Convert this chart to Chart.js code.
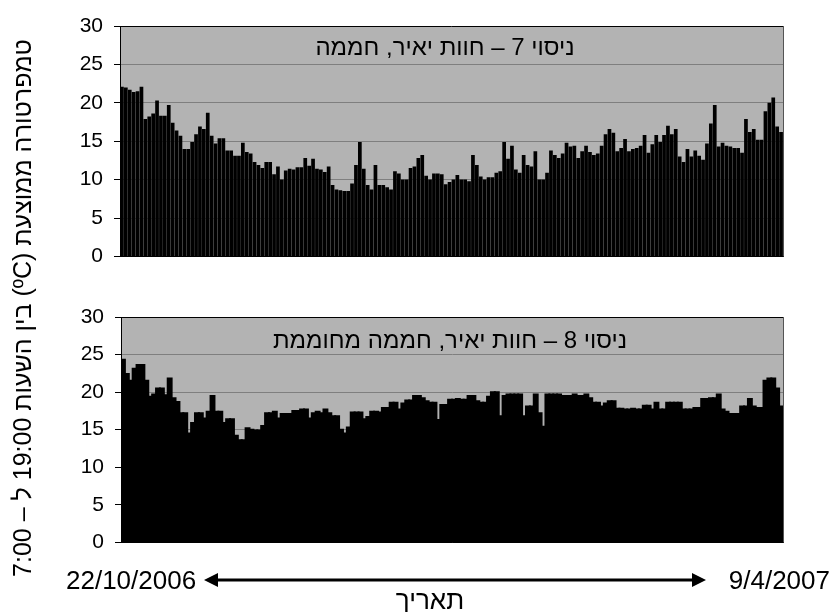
<!DOCTYPE html>
<html lang="he">
<head>
<meta charset="utf-8">
<script src="https://cdn.jsdelivr.net/npm/chart.js@4/dist/chart.umd.min.js"></script>
<style>
  html, body { margin: 0; padding: 0; background: #fff; }
  #wrap { position: relative; width: 833px; height: 612px; overflow: hidden; background: #fff;
          font-family: "Liberation Sans", Arial, "DejaVu Sans", sans-serif; color: #000; }
  .panel { position: absolute; left: 0; width: 833px; }
  .inner-title { position: absolute; white-space: nowrap; font-size: 24px; line-height: 28px;
                 transform: translate(-50%, -50%); direction: rtl; }
  #ytitle { position: absolute; left: 22px; top: 308px; width: 640px; text-align: center;
            font-size: 25px; line-height: 28px; white-space: nowrap; direction: rtl;
            transform: translate(-50%, -50%) rotate(-90deg); }
  .date { position: absolute; font-size: 26px; line-height: 30px; white-space: nowrap; }
  #xtitle { position: absolute; left: 430px; top: 600px; font-size: 26px; line-height: 28px;
            transform: translate(-50%, -50%); direction: rtl; white-space: nowrap; }
  #arrow { position: absolute; left: 0; top: 0; }
</style>
</head>
<body>
<div id="wrap">
  <div class="panel" style="top:0px; height:280px"><canvas id="c1"></canvas></div>
  <div class="panel" style="top:290px; height:276px"><canvas id="c2"></canvas></div>
  <div class="inner-title" id="t1" style="left:445px; top:47px">ניסוי 7 – חוות יאיר, חממה</div>
  <div class="inner-title" id="t2" style="left:450px; top:340px">ניסוי 8 – חוות יאיר, חממה מחוממת</div>
  <div id="ytitle">טמפרטורה ממוצעת (ºC) בין השעות 19:00 ל – 7:00</div>
  <div class="date" id="dStart" style="left:66px; top:565px">22/10/2006</div>
  <div class="date" id="dEnd" style="right:3px; top:565px">9/4/2007</div>
  <svg id="arrow" width="833" height="612">
    <line x1="214" y1="580" x2="696" y2="580" stroke="#000" stroke-width="3"/>
    <polygon points="204,580 218,573 218,587" fill="#000"/>
    <polygon points="706,580 692,573 692,587" fill="#000"/>
  </svg>
  <div id="xtitle">תאריך</div>
</div>
<script>
// Daily categories: 22/10/2006 .. 9/4/2007
const startDate = new Date(2006, 9, 22);
const dayCount = 170;
const days = [];
for (let i = 0; i < dayCount; i++) {
  const d = new Date(startDate.getFullYear(), startDate.getMonth(), startDate.getDate() + i);
  days.push(d.getDate() + '/' + (d.getMonth() + 1) + '/' + d.getFullYear());
}

// Mean temperature 19:00–07:00 (°C), experiment 7 – greenhouse
const greenhouse = [
  22.1,22.0,21.7,21.4,21.5,22.1,17.9,18.2,18.6,20.3,
  18.3,18.3,19.7,17.4,16.4,15.7,14.0,14.0,14.9,15.9,
  16.9,16.6,18.7,15.7,14.7,15.4,15.4,13.8,13.8,13.1,
  13.1,14.8,13.6,13.4,12.3,11.9,11.5,12.3,12.3,10.7,
  11.7,10.0,11.2,11.4,11.3,11.6,11.6,12.8,11.8,12.7,
  11.4,11.3,11.0,11.7,9.3,8.7,8.6,8.5,8.5,9.5,
  11.9,14.9,11.4,9.3,8.7,11.9,9.3,9.3,9.0,8.7,
  11.1,10.8,10.0,10.0,11.5,11.7,12.8,13.2,10.5,10.0,
  10.8,10.8,10.7,9.4,9.7,10.0,10.6,10.0,10.0,9.8,
  13.2,11.9,10.4,10.0,10.3,10.3,10.9,11.1,14.9,12.7,
  14.4,11.3,10.9,13.2,11.9,11.7,13.7,10.0,10.0,10.9,
  13.8,13.2,12.8,13.4,14.8,14.3,14.4,12.8,13.7,14.4,
  13.6,13.2,13.4,14.4,15.9,16.6,16.1,13.7,14.1,15.3,
  13.7,14.0,14.1,14.4,15.8,13.5,14.6,15.8,14.9,15.8,
  17.0,15.9,16.6,13.0,12.3,14.0,13.0,13.8,13.1,12.6,
  14.7,17.3,19.7,14.3,14.8,14.4,14.3,14.1,14.1,13.5,
  17.9,16.2,16.6,15.2,15.2,18.9,20.0,20.7,16.9,16.2
];

// Mean temperature 19:00–07:00 (°C), experiment 8 – heated greenhouse
const heatedGreenhouse = [
  24.3,22.4,21.5,23.1,23.6,23.6,21.5,19.4,19.7,20.5,
  20.5,19.6,21.8,19.2,18.7,17.2,17.2,14.5,15.9,17.2,
  17.2,16.5,17.4,19.5,17.4,17.4,15.9,16.4,16.4,14.2,
  13.6,13.6,15.2,15.0,14.9,14.9,15.5,17.2,17.2,17.4,
  16.5,17.1,17.1,17.1,17.5,17.5,17.7,17.7,16.5,17.2,
  17.4,17.2,17.7,17.2,16.8,16.8,15.0,14.5,15.3,17.3,
  17.3,17.3,16.4,16.7,17.4,17.4,17.3,17.9,17.9,18.6,
  18.6,17.7,18.5,18.9,18.9,19.5,19.5,19.2,18.8,18.6,
  18.6,16.3,18.3,18.3,19.0,19.0,19.1,19.0,19.0,19.5,
  19.5,18.8,18.6,18.6,19.4,20.0,20.0,16.8,19.5,19.7,
  19.7,19.7,19.7,16.8,18.1,18.1,19.7,17.2,15.4,19.7,
  19.7,19.7,19.7,19.5,19.5,19.5,19.7,19.5,19.5,19.7,
  19.2,18.6,18.6,18.1,18.5,18.8,18.8,17.8,17.8,17.7,
  17.7,17.8,17.7,17.7,18.2,18.2,17.7,18.6,17.7,17.7,
  18.6,18.6,18.6,18.6,17.7,17.7,17.7,17.9,17.9,19.1,
  19.1,19.2,19.2,19.7,17.7,17.4,17.1,17.1,17.1,18.1,
  18.1,19.1,18.1,17.9,17.9,21.5,21.8,21.8,20.5,18.1
];

const yTicks = [0, 5, 10, 15, 20, 25, 30];

const FONT = '"Liberation Sans", Arial, "DejaVu Sans", sans-serif';

// Gray plot background plus the dark frame on the top and right edges
const plotFrame = {
  id: 'plotFrame',
  beforeDraw(chart) {
    const a = chart.chartArea, ctx = chart.ctx;
    ctx.save();
    ctx.fillStyle = '#b3b3b3';
    ctx.fillRect(a.left, a.top, a.right - a.left, a.bottom - a.top);
    ctx.restore();
  },
  afterDraw(chart) {
    const a = chart.chartArea, ctx = chart.ctx;
    ctx.save();
    ctx.lineWidth = 1;
    ctx.strokeStyle = '#000';
    ctx.beginPath();
    ctx.moveTo(a.left, Math.round(a.top) + 0.5);
    ctx.lineTo(a.right, Math.round(a.top) + 0.5);
    ctx.stroke();
    ctx.strokeStyle = '#555';
    ctx.beginPath();
    ctx.moveTo(Math.round(a.right) + 0.5, a.top);
    ctx.lineTo(Math.round(a.right) + 0.5, a.bottom);
    ctx.stroke();
    ctx.restore();
  }
};

function makePanel(canvasId, values, axisWidth, pad, barPct, inflate) {
  return new Chart(document.getElementById(canvasId), {
    type: 'bar',
    data: {
      labels: days,
      datasets: [{
        data: values,
        backgroundColor: '#000',
        borderWidth: 0,
        inflateAmount: inflate,
        barPercentage: barPct,
        categoryPercentage: 1.0
      }]
    },
    options: {
      responsive: true,
      maintainAspectRatio: false,
      animation: false,
      events: [],
      layout: { padding: pad },
      plugins: { legend: { display: false }, tooltip: { enabled: false }, title: { display: false } },
      scales: {
        x: {
          type: 'category',
          offset: true,
          grid: { display: false, drawTicks: false },
          ticks: { display: false },
          border: { display: true, color: '#000', width: 1 }
        },
        y: {
          min: 0, max: 30,
          z: 1,
          afterFit(scale) { scale.width = axisWidth; },
          afterBuildTicks(scale) { scale.ticks = yTicks.map(v => ({ value: v })); },
          grid: {
            color: c => (c.tick && (c.tick.value === 0 || c.tick.value === 30)) ? 'rgba(0,0,0,0)' : '#7f7f7f',
            lineWidth: 1,
            tickColor: '#000',
            tickLength: 6,
            drawTicks: true
          },
          border: { display: true, color: '#000', width: 1 },
          ticks: {
            padding: 11,
            color: '#000',
            font: { family: FONT, size: 21 }
          }
        }
      }
    },
    plugins: [plotFrame]
  });
}

makePanel('c1', greenhouse, 120, { top: 26, right: 50, bottom: 15, left: 0 }, 0.95, 0);
makePanel('c2', heatedGreenhouse, 121, { top: 27, right: 50, bottom: 19, left: 0 }, 1.0, 1);
</script>
</body>
</html>
